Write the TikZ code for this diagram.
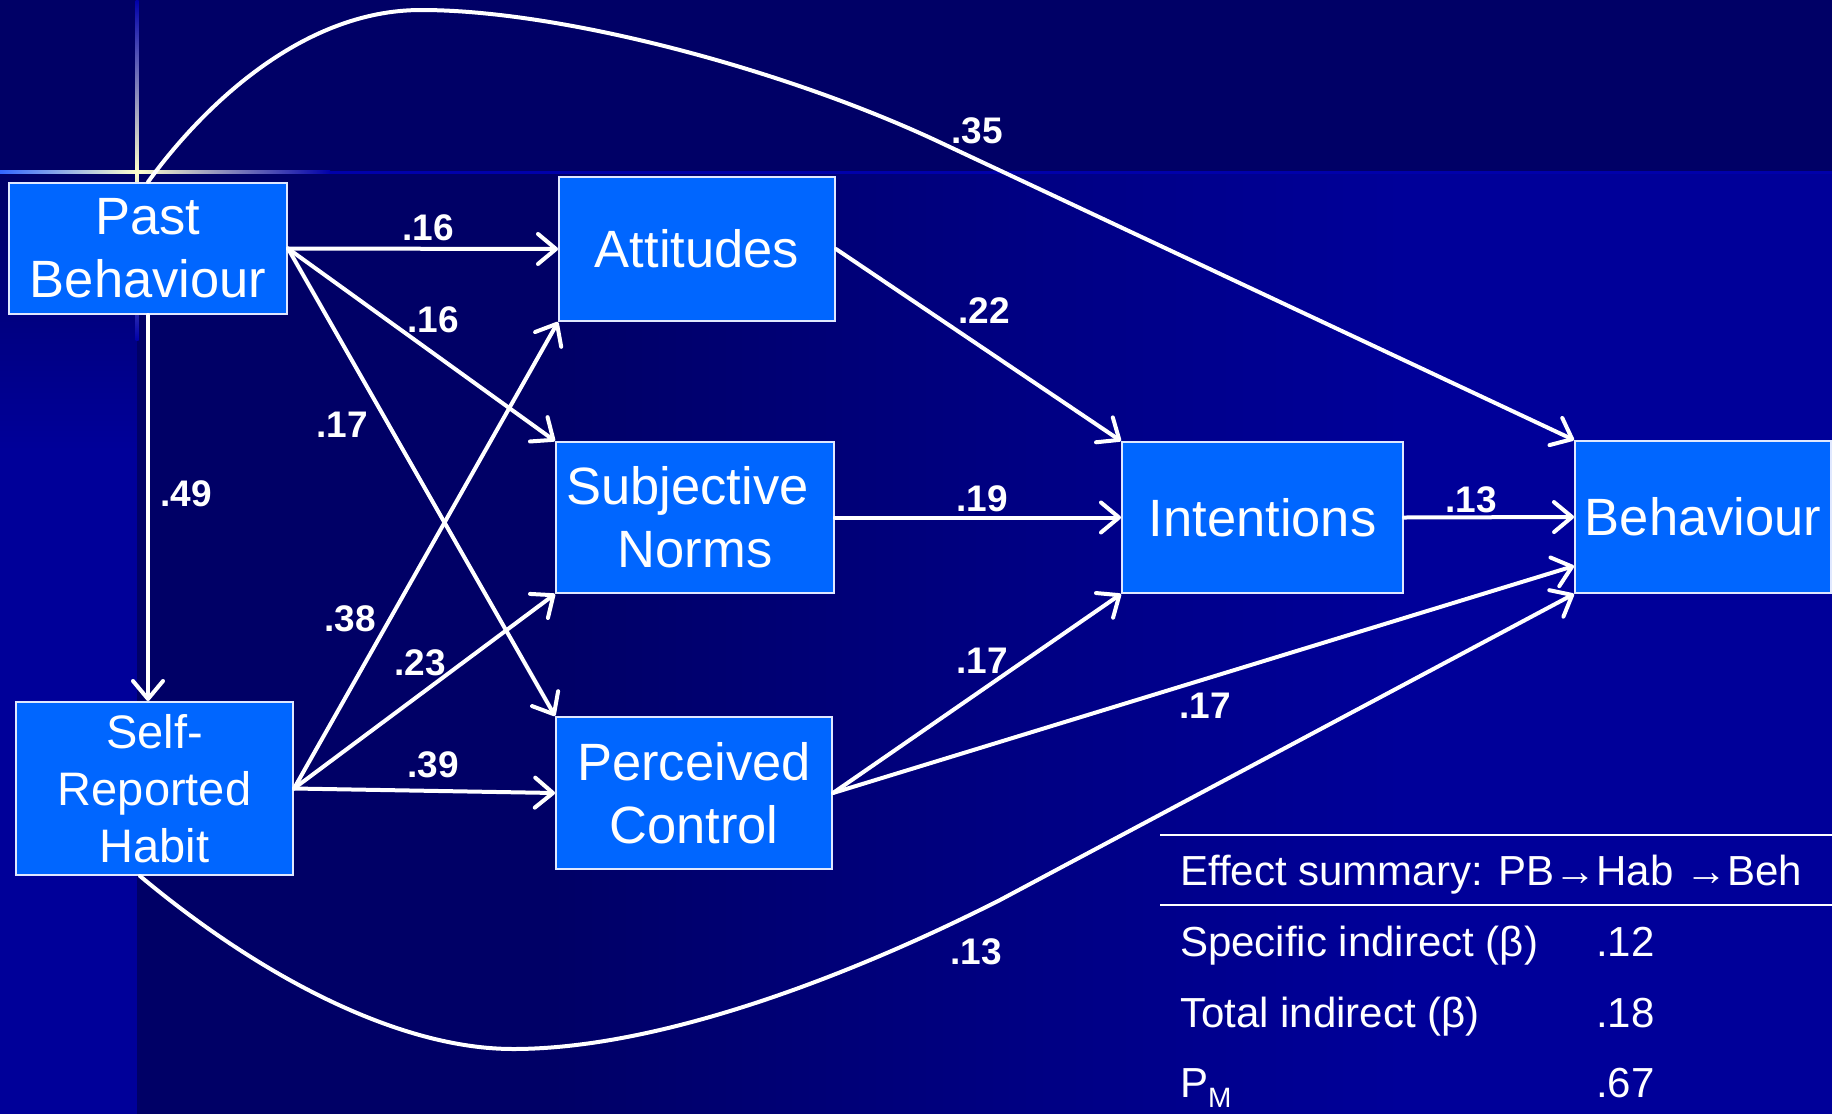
\documentclass[tikz,border=0pt]{standalone}
\usepackage{fontspec}
\setmainfont{Liberation Sans}
\usetikzlibrary{arrows.meta,calc}

\definecolor{bandnavy}{HTML}{000066}
\definecolor{deepblue}{HTML}{000099}
\definecolor{ruleblue}{HTML}{0000AA}
\definecolor{glowblue}{HTML}{3366FF}
\definecolor{glowcore}{HTML}{FFFFCC}
\definecolor{boxblue}{HTML}{0066FF}
\definecolor{boxedge}{HTML}{E0E8FF}

\begin{document}
\begin{tikzpicture}[x=1pt,y=-1pt,
  box/.style={draw=boxedge, line width=2pt, fill=boxblue, text=white, inner sep=0pt,
    font=\fontsize{52.5}{63}\selectfont, align=center},
  conn/.style={draw=white, line width=4pt, line cap=round,
    -{Straight Barb[length=18pt,width=30pt,round]}},
  wt/.style={text=white, font=\fontsize{37}{42}\selectfont\bfseries, inner sep=0pt},
  tab/.style={text=white, font=\fontsize{42}{48}\selectfont, inner sep=0pt, anchor=base west},
  rule/.style={draw=white, line width=2.2pt},
]
\useasboundingbox (0,0) rectangle (1832,1114);

% background: dark top band, left strip, main field brightening to the right
\fill[bandnavy] (0,0) rectangle (1832,172);
\shade[top color=bandnavy, bottom color=deepblue] (0,172) rectangle (137,450);
\fill[deepblue] (0,449) rectangle (137,1114);
\fill[bandnavy] (137,172) rectangle (551,1114);
\shade[left color=bandnavy, right color=deepblue] (550,172) rectangle (1401,1114);
\fill[deepblue] (1400,172) rectangle (1832,1114);

% glowing cross lines
\fill[ruleblue] (0,170.5) rectangle (1832,173.5);
\shade[left color=glowblue, right color=glowcore] (0,170.5) rectangle (137,173.5);
\shade[left color=glowcore, middle color=glowblue, right color=ruleblue] (137,170.5) rectangle (330,173.5);
\shade[top color=ruleblue, middle color=glowblue, bottom color=glowcore] (135.5,0) rectangle (138.5,172);
\shade[top color=glowcore, bottom color=ruleblue] (135.5,172) rectangle (138.5,340);

% constructs
\node[box, minimum width=278pt, minimum height=131pt] (PB)  at (148,248.5) {Past\\Behaviour};
\node[box, minimum width=276pt, minimum height=144pt] (Att) at (697,249) {Attitudes};
\node[box, minimum width=278pt, minimum height=151pt] (SN)  at (695,517.5) {Subjective\hspace*{15pt}\\Norms};
\node[box, minimum width=276pt, minimum height=152pt] (PC)  at (694,793) {Perceived\\Control};
\node[box, minimum width=277pt, minimum height=173pt, font=\fontsize{47}{57}\selectfont] (Hab) at (154.5,788.5) {Self-\\Reported\\Habit};
\node[box, minimum width=281pt, minimum height=151pt] (Int) at (1262.5,517.5) {Intentions};
\node[box, minimum width=256pt, minimum height=152pt] (Beh) at (1703,517) {Behaviour};

% paths
\draw[conn] (PB.east) -- (Att.west);
\draw[conn] (PB.east) -- (SN.north west);
\draw[conn] (PB.east) -- (PC.north west);
\draw[conn] (PB.south) -- (PB.south |- Hab.north);
\draw[conn] (Hab.east) -- (Att.south west);
\draw[conn] (Hab.east) -- (SN.south west);
\draw[conn] (Hab.east) -- (PC.west);
\draw[conn] (Att.east) -- (Int.north west);
\draw[conn] (SN.east) -- (Int.west);
\draw[conn] (PC.east) -- (Int.south west);
\draw[conn] (PC.east) -- ($(Beh.west)+(0,49)$);
\draw[conn] (Int.east) -- (Beh.west);
\draw[conn] (PB.north) .. controls (200,110) and (300,10) .. (421,10)
  .. controls (560,10) and (780,68) .. (935,140) -- (Beh.north west);
\draw[conn] ([xshift=-14.5pt]Hab.south) .. controls (262,978) and (400,1049) .. (513,1049)
  .. controls (660,1049) and (850,976) .. (1000,900) -- (Beh.south west);

% path coefficients
\node[wt] (w35)  at (977,131) {.35};
\node[wt] (w16a) at (428,228) {.16};
\node[wt] (w16b) at (433,320) {.16};
\node[wt] (w17a) at (342,425) {.17};
\node[wt] (w49)  at (186,494) {.49};
\node[wt] (w38)  at (350,619) {.38};
\node[wt] (w23)  at (420,663) {.23};
\node[wt] (w39)  at (433,765) {.39};
\node[wt] (w22)  at (984,311) {.22};
\node[wt] (w19)  at (982,499) {.19};
\node[wt] (w13a) at (1471,500) {.13};
\node[wt] (w17b) at (982,661) {.17};
\node[wt] (w17c) at (1205,706) {.17};
\node[wt] (w13b) at (976,952) {.13};

% effect summary table
\coordinate (ruleA) at (1160,835);
\coordinate (ruleB) at (1160,905);
\draw[rule] (ruleA) -- (ruleA -| 1832,0);
\draw[rule] (ruleB) -- (ruleB -| 1832,0);
\node[tab] (head) at (1180,885) {Effect summary: PB→Hab →Beh};
\node[tab] (r1a) at (1180,956) {Specific indirect (β)};
\node[tab] (r1b) at (1596,956) {.12};
\node[tab] (r2a) at (1180,1027) {Total indirect (β)};
\node[tab] (r2b) at (1596,1027) {.18};
\node[tab] (r3a) at (1180,1097) {P\raisebox{-10pt}{\fontsize{28}{30}\selectfont M}};
\node[tab] (r3b) at (1596,1097) {.67};
\end{tikzpicture}
\end{document}
